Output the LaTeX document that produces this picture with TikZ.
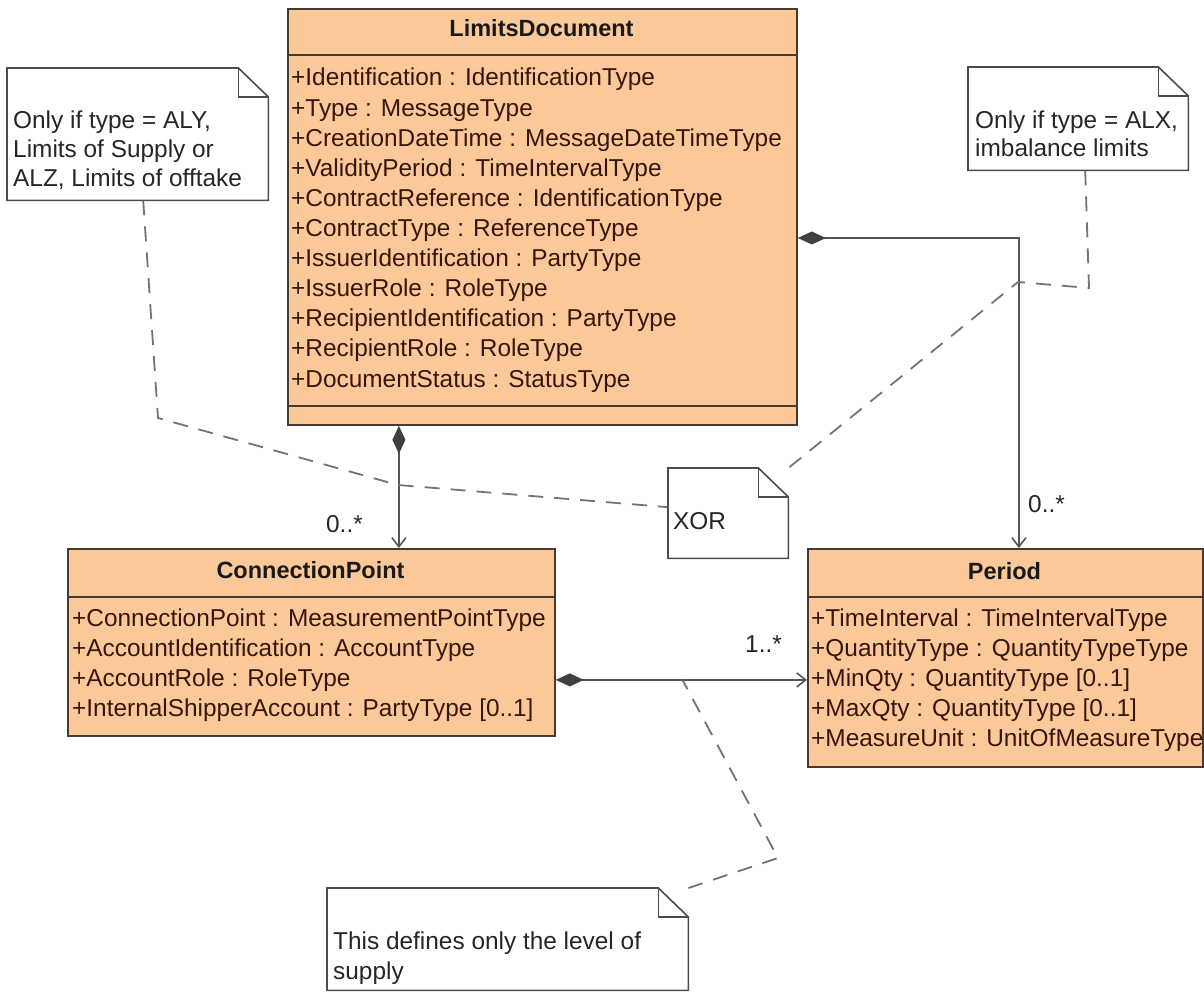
\documentclass[tikz,border=0pt]{standalone}
\usepackage{fontspec}
\setmainfont{Liberation Sans}
\usepackage{xcolor}
\usetikzlibrary{arrows.meta,calc}

\definecolor{clsfill}{RGB}{251,201,153}
\definecolor{clsline}{RGB}{72,58,48}
\definecolor{attrtxt}{RGB}{55,22,12}
\definecolor{linkgray}{RGB}{85,85,85}

% note outline with folded corner, drawn round an empty node
\newcommand{\dogear}[1]{%
  \draw[noteline] (#1.south west) -- (#1.north west) -- ([xshift=-30pt]#1.north east)
    -- ([yshift=-29pt]#1.north east) -- (#1.south east) -- cycle;
  \draw[noteline, fill=none] ([xshift=-30pt]#1.north east) |- ([yshift=-29pt]#1.north east);}

\begin{document}
\begin{tikzpicture}[
    x=1pt, y=-1pt,
    font=\fontsize{24.4}{29}\selectfont,
    cls/.style      = {draw=clsline, fill=clsfill, line width=1.8pt, inner sep=0pt,
                       anchor=north west},
    ttl/.style      = {font=\fontsize{23.5}{28}\selectfont\bfseries, text=black!90,
                       inner sep=0pt, anchor=base},
    attr/.style     = {text=attrtxt, inner sep=0pt, anchor=base west},
    sep/.style      = {draw=clsline, line width=1.8pt},
    note/.style     = {inner sep=0pt, anchor=north west},
    ntxt/.style     = {text=black!85, inner sep=0pt, anchor=base west},
    noteline/.style = {draw=black!70, line width=1.6pt, fill=white},
    comp/.style     = {draw=linkgray, line width=1.6pt,
                       arrows={Diamond[length=28pt,width=13pt,color=black!75]-Straight Barb[length=9pt,width=14pt]}},
    dsh/.style      = {draw=black!55, line width=1.8pt, dash pattern=on 15pt off 11pt},
    mult/.style     = {text=black!85, inner sep=0pt},
]
\useasboundingbox (0,0) rectangle (1204,992);

%% ── LimitsDocument ───────────────────────────────────────────────────────
\node[cls, minimum width=509pt, minimum height=416pt] (ld) at (287,8) {};
\node[ttl] (ldT) at (541.5,37) {LimitsDocument};
\draw[sep] ([yshift=-47pt]ld.north west) -- ([yshift=-47pt]ld.north east);
\draw[sep] ([yshift=20pt]ld.south west) -- ([yshift=20pt]ld.south east);
\foreach \a [count=\i from 0] in {+Identification : IdentificationType,
    +Type : MessageType, +CreationDateTime : MessageDateTimeType,
    +ValidityPeriod : TimeIntervalType, +ContractReference : IdentificationType,
    +ContractType : ReferenceType, +IssuerIdentification : PartyType,
    +IssuerRole : RoleType, +RecipientIdentification : PartyType,
    +RecipientRole : RoleType, +DocumentStatus : StatusType}
  \node[attr] (ld-\i) at (291,{86+30.1*\i}) {\a};

%% ── ConnectionPoint ──────────────────────────────────────────────────────
\node[cls, minimum width=487pt, minimum height=187pt] (cp) at (67,548) {};
\node[ttl] (cpT) at (310.5,578) {ConnectionPoint};
\draw[sep] ([yshift=-49pt]cp.north west) -- ([yshift=-49pt]cp.north east);
\foreach \a [count=\i from 0] in {+ConnectionPoint : MeasurementPointType,
    +AccountIdentification : AccountType, +AccountRole : RoleType,
    +InternalShipperAccount : PartyType [0..1]}
  \node[attr] (cp-\i) at (72,{626+30.2*\i}) {\a};

%% ── Period ───────────────────────────────────────────────────────────────
\node[cls, minimum width=395pt, minimum height=218pt] (per) at (807,548) {};
\node[ttl] (perT) at (1004.5,579) {Period};
\draw[sep] ([yshift=-49pt]per.north west) -- ([yshift=-49pt]per.north east);
\foreach \a [count=\i from 0] in {+TimeInterval : TimeIntervalType,
    +QuantityType : QuantityTypeType, +MinQty : QuantityType [0..1],
    +MaxQty : QuantityType [0..1], +MeasureUnit : UnitOfMeasureType}
  \node[attr] (per-\i) at (811,{626+30.2*\i}) {\a};

%% ── Compositions ─────────────────────────────────────────────────────────
\draw[comp] ([yshift=-230pt]ld.north east) -| ([xshift=13.5pt]per.north);
\draw[comp] ([xshift=-143.5pt]ld.south) -- ([xshift=-143.5pt]ld.south |- cp.north);
\draw[comp] ([yshift=-37.5pt]cp.east) -- ([yshift=-37.5pt]cp.east -| per.west);

\node[mult, anchor=base east] (mCp)  at (363,532)  {0..*};
\node[mult, anchor=base west] (mPer) at (1028,512) {0..*};
\node[mult, anchor=base east] (mSub) at (782,652)  {1..*};

%% ── Note anchors ─────────────────────────────────────────────────────────
\coordinate (lkA) at (398,485);
\coordinate (lkB) at (1018,282);
\coordinate (lkC) at (682,679);
\coordinate (bA)  at (158,418);
\coordinate (bB)  at (1089,288);
\coordinate (bC)  at (778,858);

%% ── Notes ────────────────────────────────────────────────────────────────
\node[note, minimum width=261pt, minimum height=132pt] (nAly) at (7,68) {};
\node[note, minimum width=220pt, minimum height=103pt] (nAlx) at (968,67) {};
\node[note, minimum width=120pt, minimum height=90pt]  (nXor) at (668,468) {};
\node[note, minimum width=361pt, minimum height=102pt] (nSup) at (327,888) {};

\draw[dsh] ([xshift=5.5pt]nAly.south) -- (bA) -- (lkA) -- ([yshift=6pt]nXor.west);
\draw[dsh] ([xshift=7pt]nAlx.south) -- (bB) -- (lkB) -- (nXor.north east);
\draw[dsh] (nSup.north east) -- (bC) -- (lkC);

\dogear{nAly}
\dogear{nAlx}
\dogear{nXor}
\dogear{nSup}

\node[ntxt] (nAlyT1) at (13,129) {Only if type = ALY,};
\node[ntxt] (nAlyT2) at (13,158) {Limits of Supply or};
\node[ntxt] (nAlyT3) at (13,187) {ALZ, Limits of offtake};
\node[ntxt] (nAlxT1) at (975,129) {Only if type = ALX,};
\node[ntxt] (nAlxT2) at (975,157) {imbalance limits};
\node[ntxt] (nXorT)  at (673,529) {XOR};
\node[ntxt] (nSupT1) at (333,949) {This defines only the level of};
\node[ntxt] (nSupT2) at (333,979) {supply};

\end{tikzpicture}
\end{document}
